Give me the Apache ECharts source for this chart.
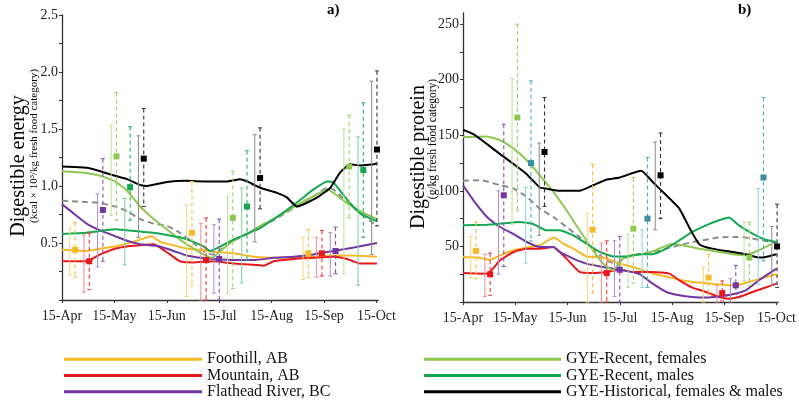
<!DOCTYPE html>
<html><head><meta charset="utf-8">
<script src="https://cdn.jsdelivr.net/npm/echarts@6/dist/echarts.min.js"></script>
<style>html,body{margin:0;padding:0;background:#fff}#c{width:799px;height:403px}</style>
</head><body><div id="c"></div>
<script>
// ---------- categories / labels ----------
const monthTicks = [0, 1, 2, 3, 4, 5, 6];
const monthLabels = ['15-Apr', '15-May', '15-Jun', '15-Jul', '15-Aug', '15-Sep', '15-Oct'];
const seriesNames = ['Foothill, AB', 'Mountain, AB', 'Flathead River, BC', 'GYE-Recent, females', 'GYE-Recent, males', 'GYE-Historical, females & males'];
const lineColors = ['#f7b925', '#e8171d', '#7236a2', '#8fc851', '#14a852', '#000000'];
const pointColorsA = ['#f7b925', '#e8171d', '#7236a2', '#8fc851', '#14a852', '#000000'];
const pointColorsB = ['#f7b925', '#e8171d', '#7236a2', '#8fc851', '#3a8ea6', '#000000'];
const dashColorsA = ['#f5c03a', '#ec3a3f', '#8452b2', '#9fd065', '#2db36b', '#333333'];
const dashColorsB = ['#f5c03a', '#ec3a3f', '#8452b2', '#9fd065', '#4fb0bd', '#333333'];
const solidColorsA = ['#f6d27e', '#f08c8c', '#ab8dc8', '#bddf98', '#7fcc9c', '#8a8a8a'];
const solidColorsB = ['#f6d27e', '#f08c8c', '#ab8dc8', '#bddf98', '#93cfd6', '#8a8a8a'];
const yTicksA = [0, 0.25, 0.5, 0.75, 1, 1.25, 1.5, 1.75, 2, 2.25, 2.5];
const yLabelsA = [0.5, 1, 1.5, 2, 2.5];
const yTicksB = [0, 25, 50, 75, 100, 125, 150, 175, 200, 225, 250];
const yLabelsB = [50, 100, 150, 200, 250];

// ---------- panel a: digestible energy (x = months after 15-Apr) ----------
const aFoothillX = [0, 0.47, 0.73, 1.01, 1.36, 1.55, 1.71, 1.87, 2.13, 2.38, 2.64, 2.96, 3.27, 3.66, 4.04, 4.42, 4.8, 5.18, 5.57, 6.01];
const aFoothillY = [0.44, 0.43, 0.45, 0.47, 0.51, 0.54, 0.56, 0.51, 0.48, 0.45, 0.44, 0.42, 0.41, 0.38, 0.37, 0.37, 0.38, 0.39, 0.39, 0.38];
const aMountainX = [0, 0.47, 0.73, 1.01, 1.24, 1.49, 1.75, 1.87, 2.06, 2.25, 2.51, 2.89, 3.27, 3.66, 3.85, 4.04, 4.42, 4.8, 5.18, 5.44, 5.69, 6.01];
const aMountainY = [0.34, 0.34, 0.40, 0.45, 0.47, 0.48, 0.49, 0.46, 0.40, 0.34, 0.33, 0.34, 0.32, 0.31, 0.30, 0.34, 0.36, 0.37, 0.38, 0.36, 0.32, 0.32];
const aFlatheadX = [0, 0.22, 0.47, 0.73, 1.01, 1.24, 1.49, 1.68, 1.87, 2.13, 2.38, 2.64, 2.89, 3.27, 3.66, 4.04, 4.42, 4.8, 5.18, 5.57, 6.01];
const aFlatheadY = [0.84, 0.76, 0.67, 0.61, 0.56, 0.52, 0.49, 0.48, 0.47, 0.43, 0.39, 0.37, 0.36, 0.35, 0.35, 0.37, 0.38, 0.40, 0.43, 0.46, 0.50];
const aFemalesX = [0, 0.34, 0.73, 1.01, 1.24, 1.49, 1.75, 2.0, 2.25, 2.51, 2.7, 2.86, 3.02, 3.27, 3.53, 3.78, 4.04, 4.29, 4.55, 4.8, 5.06, 5.18, 5.44, 5.69, 6.01];
const aFemalesY = [1.13, 1.12, 1.09, 1.04, 0.96, 0.82, 0.71, 0.62, 0.53, 0.45, 0.40, 0.37, 0.43, 0.52, 0.58, 0.65, 0.71, 0.78, 0.85, 0.91, 0.97, 0.94, 0.85, 0.78, 0.71];
const aMalesX = [0, 0.47, 1.01, 1.49, 1.75, 2.0, 2.25, 2.51, 2.7, 2.83, 3.02, 3.27, 3.53, 3.78, 4.04, 4.29, 4.55, 4.8, 5.06, 5.18, 5.44, 5.69, 6.01];
const aMalesY = [0.58, 0.59, 0.62, 0.60, 0.59, 0.57, 0.55, 0.51, 0.47, 0.43, 0.47, 0.53, 0.58, 0.63, 0.71, 0.79, 0.88, 0.97, 1.04, 1.03, 0.88, 0.76, 0.69];
const aHistX = [0, 0.47, 0.73, 1.01, 1.24, 1.49, 1.62, 2.0, 2.38, 2.76, 3.15, 3.4, 3.53, 3.78, 4.1, 4.29, 4.48, 4.61, 4.87, 5.12, 5.31, 5.5, 5.69, 5.95, 6.01];
const aHistY = [1.17, 1.16, 1.13, 1.09, 1.06, 1.01, 1.0, 1.035, 1.045, 1.04, 1.04, 1.06, 1.04, 0.985, 0.94, 0.9, 0.82, 0.84, 0.9, 0.985, 1.12, 1.19, 1.18, 1.19, 1.2];
const aMeanX = [0, 0.47, 0.73, 1.01, 1.24, 1.49, 1.75, 2.0, 2.25, 2.51, 2.76, 2.89, 3.02, 3.27, 3.53, 3.78, 4.04, 4.29, 4.55, 4.8, 5.06, 5.18, 5.44, 5.69, 6.01];
const aMeanY = [0.87, 0.86, 0.85, 0.82, 0.78, 0.71, 0.67, 0.65, 0.59, 0.50, 0.41, 0.40, 0.44, 0.52, 0.58, 0.64, 0.70, 0.77, 0.84, 0.91, 0.98, 0.97, 0.86, 0.76, 0.65];

// points: x, mean, dashed bar low/high, solid bar low/high, group
const aPtX = [0.25, 0.52, 0.78, 1.04, 1.30, 1.56, 2.48, 2.75, 3.0, 3.26, 3.53, 3.78, 4.70, 4.96, 5.22, 5.48, 5.75, 6.01];
const aPtY = [0.44, 0.34, 0.79, 1.26, 0.99, 1.24, 0.59, 0.35, 0.36, 0.72, 0.82, 1.07, 0.41, 0.41, 0.43, 1.17, 1.14, 1.32];
const aDashLo = [0.20, 0.09, 0.34, 0.70, 0.70, 0.82, 0.13, 0.0, 0.0, 0.10, 0.35, 0.80, 0.20, 0.21, 0.23, 0.72, 0.55, 0.65];
const aDashHi = [0.68, 0.59, 1.24, 1.82, 1.52, 1.68, 1.04, 0.72, 0.71, 1.13, 1.31, 1.51, 0.62, 0.61, 0.64, 1.62, 1.73, 2.01];
const aSolidLo = [0.22, 0.07, 0.29, 0.74, 0.31, 0.55, 0.03, 0.0, 0.06, 0.06, 0.15, 0.51, 0.18, 0.20, 0.21, 0.23, 0.13, 0.40];
const aSolidHi = [0.63, 0.57, 0.93, 1.53, 0.89, 1.44, 0.83, 0.67, 0.66, 0.91, 0.98, 1.45, 0.55, 0.55, 0.59, 1.50, 1.43, 1.92];
const ptGroup = [0, 1, 2, 3, 4, 5, 0, 1, 2, 3, 4, 5, 0, 1, 2, 3, 4, 5];

// ---------- panel b: digestible protein ----------
const bFoothillX = [0, 0.27, 0.52, 0.71, 0.97, 1.22, 1.47, 1.74, 1.92, 2.11, 2.36, 2.62, 2.81, 3.0, 3.25, 3.63, 3.89, 4.14, 4.39, 4.77, 5.09, 5.22, 5.54, 6.0];
const bFoothillY = [40.5, 40, 38, 42, 46.5, 49, 51, 58, 52.5, 48, 41, 40.5, 38, 34.5, 31.5, 25.5, 23, 20, 18, 16.5, 15, 15, 19, 25];
const bMountainX = [0, 0.46, 0.71, 0.97, 1.22, 1.47, 1.73, 1.98, 2.23, 2.49, 2.74, 3.0, 3.25, 3.63, 3.95, 4.14, 4.39, 4.65, 4.9, 5.09, 5.28, 5.54, 5.79, 6.0];
const bMountainY = [26, 25.5, 37.5, 45, 48, 48, 49.5, 39, 27, 26, 27, 29, 27, 27, 25.5, 19.5, 13, 9, 4.5, 3, 4.5, 9, 13, 16.5];
const bFlatheadX = [0, 0.2, 0.46, 0.71, 0.97, 1.22, 1.47, 1.73, 1.85, 2.11, 2.36, 2.62, 2.87, 3.12, 3.38, 3.63, 3.89, 4.14, 4.39, 4.65, 4.9, 5.16, 5.41, 5.66, 6.0];
const bFlatheadY = [105, 91.5, 76.5, 67.5, 61, 54, 49.5, 49.5, 45, 39, 34.5, 32, 30, 28, 25, 16.5, 9, 6, 4.5, 4, 5, 7, 10.5, 19.5, 30];
const bFemalesX = [0, 0.46, 0.71, 0.97, 1.22, 1.47, 1.73, 1.98, 2.23, 2.49, 2.68, 2.87, 3.06, 3.25, 3.5, 3.76, 4.01, 4.2, 4.52, 4.9, 5.16, 5.41, 5.66, 5.9];
const bFemalesY = [148.5, 149, 145.5, 138, 127.5, 114, 99, 82.5, 64.5, 46.5, 34.5, 28.5, 39, 42, 43.5, 48, 52.5, 51, 48, 45, 43, 42, 46.5, 52];
const bMalesX = [0, 0.46, 0.71, 1.09, 1.35, 1.6, 1.85, 2.11, 2.36, 2.62, 2.87, 3.12, 3.38, 3.63, 3.89, 4.14, 4.39, 4.65, 4.9, 5.09, 5.28, 5.54, 5.79, 6.0];
const bMalesY = [69, 69.6, 70.5, 72, 70, 64.5, 64.5, 60, 52.5, 45, 41, 41, 43, 43, 48, 55.5, 63, 69, 73.5, 76, 69, 61.5, 56, 54];
const bHistX = [0, 0.2, 0.46, 0.71, 0.97, 1.22, 1.47, 1.6, 1.85, 2.23, 2.49, 2.74, 3.0, 3.25, 3.41, 3.63, 3.89, 4.14, 4.33, 4.52, 4.77, 5.16, 5.41, 5.66, 5.79, 6.0];
const bHistY = [155, 151, 142, 133, 124, 115, 103, 102, 100, 100, 105, 110, 112, 116, 118, 108, 96, 84, 67, 52, 48, 45, 43, 40, 40.5, 43];
const bMeanX = [0, 0.33, 0.71, 0.97, 1.22, 1.47, 1.73, 1.98, 2.23, 2.49, 2.74, 2.93, 3.12, 3.38, 3.63, 3.89, 4.14, 4.39, 4.65, 4.9, 5.16, 5.41, 5.66, 6.0];
const bMeanY = [109, 109.5, 105, 102, 94.5, 84, 76.5, 67.5, 58.5, 48, 37.5, 34.5, 40, 43, 45, 48, 51, 54, 56, 58, 58.5, 58, 56, 53];

const bPtX = [0.25, 0.52, 0.78, 1.04, 1.30, 1.56, 2.48, 2.75, 3.0, 3.26, 3.53, 3.78, 4.70, 4.96, 5.22, 5.48, 5.75, 6.01];
const bPtY = [46, 25, 96, 166, 125, 135, 65, 26, 29, 66, 75, 114, 22, 8, 15, 40, 112, 50];
const bDashLo = [21, 6, 32, 82, 55, 86, 8, 0, 0, 17, 13, 75, 7, 1, 7, 15, 37, 13];
const bDashHi = [72, 44, 160, 250, 199, 184, 124, 55, 59, 112, 130, 152, 43, 19, 33, 72, 184, 88];
const bSolidLo = [22, 5, 25, 70, 35, 60, 0, 0, 5, 13, 13, 65, 0, 0, 0, 19, 16, 15];
const bSolidHi = [59, 43, 100, 201, 103, 143, 80, 53, 55, 61, 65, 144, 31, 15, 21, 72, 102, 68];

// ---------- build ----------
const FONT = 'Liberation Serif';
const zip = (xs, ys) => xs.map((x, i) => [x, ys[i]]);
const aLines = [[aFoothillX, aFoothillY], [aMountainX, aMountainY], [aFlatheadX, aFlatheadY], [aFemalesX, aFemalesY], [aMalesX, aMalesY], [aHistX, aHistY]];
const bLines = [[bFoothillX, bFoothillY], [bMountainX, bMountainY], [bFlatheadX, bFlatheadY], [bFemalesX, bFemalesY], [bMalesX, bMalesY], [bHistX, bHistY]];

function lineSeries(lines, idx) {
  return lines.map((l, i) => ({
    name: seriesNames[i], type: 'line', xAxisIndex: idx, yAxisIndex: idx,
    data: zip(l[0], l[1]), showSymbol: false, symbol: 'none', smooth: 0.15,
    lineStyle: { color: lineColors[i], width: 2 }, itemStyle: { color: lineColors[i] },
    z: i === 5 ? 4 : 3, silent: true, animation: false
  }));
}
function meanSeries(xs, ys, idx) {
  return { name: 'mean', type: 'line', xAxisIndex: idx, yAxisIndex: idx, data: zip(xs, ys), showSymbol: false, symbol: 'none', smooth: 0.2,
    lineStyle: { color: '#8c8c8c', width: 2, type: [6, 4] }, z: 2, silent: true, animation: false };
}
function pointSeries(idx, px, py, dLo, dHi, sLo, sHi, pc, dc, sc) {
  const data = px.map((x, i) => [x, py[i], dLo[i], dHi[i], sLo[i], sHi[i], ptGroup[i]]);
  return {
    type: 'custom', xAxisIndex: idx, yAxisIndex: idx, data, z: 5, silent: true, animation: false,
    encode: { x: 0, y: 1 },
    renderItem(params, api) {
      const x = api.value(0), g = api.value(6);
      const p = api.coord([x, api.value(1)]);
      const dT = api.coord([x, api.value(3)])[1], dB = api.coord([x, api.value(2)])[1];
      const sT = api.coord([x, api.value(5)])[1], sB = api.coord([x, api.value(4)])[1];
      const cx = p[0], sx = cx - 5.3;
      const L = (x1, y1, x2, y2, st) => ({ type: 'line', shape: { x1, y1, x2, y2 }, style: st });
      const sSt = { stroke: sc[g], lineWidth: 1 };
      const dSt = { stroke: dc[g], lineWidth: 1.1, lineDash: [4, 3] };
      const cSt = { stroke: dc[g], lineWidth: 1 };
      return { type: 'group', children: [
        L(sx, sT, sx, sB, sSt), L(sx - 2, sT, sx + 2, sT, sSt), L(sx - 2, sB, sx + 2, sB, sSt),
        L(cx, dT, cx, dB, dSt), L(cx - 2, dT, cx + 2, dT, cSt), L(cx - 2, dB, cx + 2, dB, cSt),
        { type: 'rect', shape: { x: cx - 3, y: p[1] - 3, width: 6, height: 6 }, style: { fill: pc[g] } }
      ] };
    }
  };
}

const axisCommon = {
  axisLine: { show: true, lineStyle: { color: '#333', width: 1.3 } },
  axisTick: { show: true, length: 3, lineStyle: { color: '#333', width: 1 } },
  splitLine: { show: false },
  axisLabel: { fontFamily: FONT, fontSize: 14, color: '#222' }
};
function xAxis(idx) {
  return { type: 'value', gridIndex: idx, min: 0, max: 6.03, interval: 1,
    axisLine: axisCommon.axisLine, splitLine: { show: false },
    axisTick: Object.assign({}, axisCommon.axisTick, { customValues: monthTicks }),
    axisLabel: Object.assign({}, axisCommon.axisLabel, { margin: 9, customValues: monthTicks,
      formatter: v => monthLabels[monthTicks.indexOf(Math.round(v))] || '' }) };
}
function yAxis(idx, max, interval, ticks, labels, fmt) {
  return { type: 'value', gridIndex: idx, min: 0, max, interval,
    axisLine: axisCommon.axisLine, splitLine: { show: false },
    axisTick: Object.assign({}, axisCommon.axisTick, { customValues: ticks }),
    axisLabel: Object.assign({}, axisCommon.axisLabel, { margin: 4, customValues: labels, formatter: fmt }) };
}

const legendText = { fontFamily: FONT, fontSize: 16, color: '#111', lineHeight: 16.3 };
const option = {
  backgroundColor: '#fff',
  animation: false,
  grid: [
    { left: 62, top: 15, width: 316, height: 285 },
    { left: 463, top: 13, width: 317, height: 289 }
  ],
  xAxis: [xAxis(0), xAxis(1)],
  yAxis: [
    yAxis(0, 2.5, 0.25, yTicksA, yLabelsA, v => v.toFixed(1)),
    yAxis(1, 260, 25, yTicksB, yLabelsB, v => String(v))
  ],
  legend: [
    { data: seriesNames.slice(0, 3), orient: 'vertical', left: 64, top: 351, padding: 0, itemGap: 0,
      itemWidth: 138, itemHeight: 3, icon: 'rect', selectedMode: false, textStyle: legendText },
    { data: seriesNames.slice(3), orient: 'vertical', left: 424, top: 351, padding: 0, itemGap: 0,
      itemWidth: 137, itemHeight: 3, icon: 'rect', selectedMode: false, textStyle: legendText }
  ],
  graphic: [
    { type: 'text', x: 327, y: 3, style: { text: 'a)', font: 'bold 15px ' + FONT, fill: '#000' } },
    { type: 'text', x: 738, y: 3, style: { text: 'b)', font: 'bold 15px ' + FONT, fill: '#000' } },
    { type: 'text', x: 18.5, y: 166, rotation: Math.PI / 2, style: { text: 'Digestible energy', font: '20px ' + FONT, fill: '#000', align: 'center', verticalAlign: 'middle' } },
    { type: 'text', x: 34, y: 146, rotation: Math.PI / 2, style: { text: '(kcal × 10³/kg fresh food category)', font: '11px ' + FONT, fill: '#000', align: 'center', verticalAlign: 'middle' } },
    { type: 'text', x: 418.5, y: 157, rotation: Math.PI / 2, style: { text: 'Digestible protein', font: '20px ' + FONT, fill: '#000', align: 'center', verticalAlign: 'middle' } },
    { type: 'text', x: 433, y: 139, rotation: Math.PI / 2, style: { text: '(g/kg fresh food category)', font: '11.5px ' + FONT, fill: '#000', align: 'center', verticalAlign: 'middle' } }
  ],
  series: [
    meanSeries(aMeanX, aMeanY, 0),
    ...lineSeries(aLines, 0),
    pointSeries(0, aPtX, aPtY, aDashLo, aDashHi, aSolidLo, aSolidHi, pointColorsA, dashColorsA, solidColorsA),
    meanSeries(bMeanX, bMeanY, 1),
    ...lineSeries(bLines, 1),
    pointSeries(1, bPtX, bPtY, bDashLo, bDashHi, bSolidLo, bSolidHi, pointColorsB, dashColorsB, solidColorsB)
  ]
};
const chart = echarts.init(document.getElementById('c'), null, { renderer: 'canvas' });
chart.setOption(option);
</script></body></html>
